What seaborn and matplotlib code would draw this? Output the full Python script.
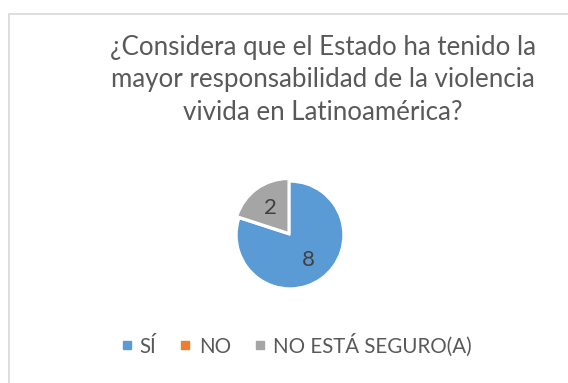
import matplotlib
matplotlib.use("Agg")
import matplotlib.pyplot as plt
import seaborn as sns
from matplotlib.lines import Line2D
from matplotlib.patches import Rectangle

categories = ["SÍ", "NO", "NO ESTÁ SEGURO(A)"]
values = [8, 0, 2]
colors = ["#5B9BD5", "#ED7D31", "#A5A5A5"]
title = "¿Considera que el Estado ha tenido la\nmayor responsabilidad de la violencia\nvivida en Latinoamérica?"

sns.set_theme(style="white")
plt.rcParams['font.family'] = ['Lato', 'DejaVu Sans']

W, H = 568, 383
fig = plt.figure(figsize=(W / 100, H / 100), dpi=100)
fig.patch.set_facecolor("white")

# border (top and left visible)
fig.patches.append(Rectangle((8.5 / W, -0.1), 1.2, (H - 13.5) / H + 0.1,
                             transform=fig.transFigure, fill=False,
                             edgecolor="#D9D9D9", linewidth=1.2))

cx, cy, r = 290, 235, 53
lim = 1.25
aw = 2 * lim * r
ax = fig.add_axes([(cx - aw / 2) / W, (H - cy - aw / 2) / H, aw / W, aw / H])
total = sum(values)
wedges, texts, autotexts = ax.pie(
    values, colors=colors, startangle=90, counterclock=False,
    explode=[0, 0, 0.06], radius=1,
    autopct=lambda p: "" if p == 0 else f"{round(p * total / 100)}",
    pctdistance=0.58,
    wedgeprops=dict(edgecolor="white", linewidth=1.0),
    textprops=dict(fontsize=16, color="#404040"))
ax.set_xlim(-lim, lim)
ax.set_ylim(-lim, lim)
ax.set_aspect("equal")
ax.axis("off")

fig.text(323 / W, (H - 80) / H, title, ha="center", va="center",
         fontsize=18.6, color="#595959", linespacing=1.39)

handles = [Line2D([0], [0], marker="s", linestyle="", markersize=5.5,
                  markerfacecolor=c, markeredgecolor=c) for c in colors]
fig.legend(handles, categories, loc="center", bbox_to_anchor=(296 / W, (H - 345) / H),
           ncol=3, frameon=False, fontsize=14.8, handlelength=0.6, handletextpad=0.35,
           columnspacing=1.1, labelcolor="#595959")

fig.savefig("out.png", dpi=100)
